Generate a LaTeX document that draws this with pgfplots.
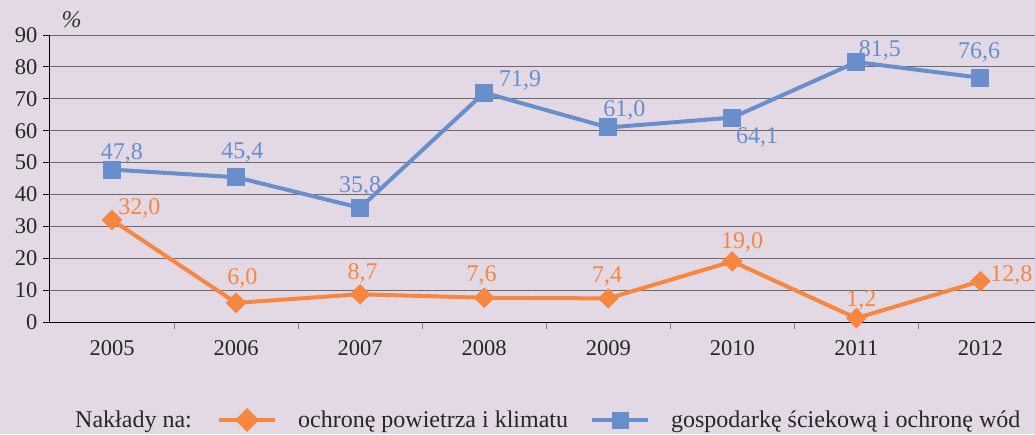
\documentclass[border=0pt]{standalone}
\usepackage{pgfplots}
\pgfplotsset{compat=1.18}
\usepackage{fontspec}
\setmainfont{Liberation Serif}
\definecolor{bg}{RGB}{226,217,229}
\definecolor{cor}{RGB}{247,134,63}
\definecolor{cbl}{RGB}{104,142,204}
\definecolor{grd}{RGB}{110,105,110}
\newcommand{\fs}{\fontsize{22.5}{26}\selectfont}
\newcommand{\fl}{\fontsize{24}{28}\selectfont}
\begin{document}
\begin{tikzpicture}[x=1pt,y=1pt]
\fill[bg] (-50,-112) rectangle (985,322);
\useasboundingbox (-50,-112) rectangle (985,322);
\node[anchor=base west, font=\fl, text=black!85, inner sep=0pt] at (25,-105) {Nakłady na:};
\begin{axis}[
  at={(0,0)}, anchor=south west,
  scale only axis, width=985pt, height=287pt,
  xmin=-0.5, xmax=7.44, ymin=0, ymax=90,
  axis lines*=left,
  axis line style={black, line width=1pt},
  ytick={0,10,...,90},
  ymajorgrids, grid style={grd, line width=1pt},
  xtick={0,...,7},
  xticklabels={2005,2006,2007,2008,2009,2010,2011,2012},
  minor xtick={0.5,1.5,...,6.5},
  major x tick style={draw=none},
  minor x tick style={gray, line width=1pt},
  minor tick length=7pt,
  major tick length=7pt,
  tick align=outside,
  ytick style={black, line width=1pt},
  tick label style={font=\fs, text=black!85},
  /pgf/number format/assume math mode=true,
  yticklabel style={xshift=-2pt},
  xticklabel style={yshift=-8pt},
  clip=false,
  legend style={at={(167pt,-98pt)}, anchor=west, draw=none, fill=none,
    font=\fl, text=black!85, legend columns=2, column sep=21pt, inner sep=0pt,
    nodes={inner sep=0pt},
    /tikz/every even column/.append style={column sep=22pt}},
  legend image code/.code={\draw[#1, line width=4pt] (0pt,0pt) -- (56pt,0pt);
    \draw[#1, only marks, mark size=6.5pt] plot coordinates {(28pt,0pt)};},
]
\addplot[cor, line width=4pt, mark=square*, mark size=5.3pt, mark options={solid, rotate=45}]
  coordinates {(0,32.0)(1,6.0)(2,8.7)(3,7.6)(4,7.4)(5,19.0)(6,1.2)(7,12.8)};
\addlegendentry{ochronę powietrza i klimatu}
\addplot[cbl, line width=4pt, mark=square*, mark size=7pt, mark options={solid}]
  coordinates {(0,47.8)(1,45.4)(2,35.8)(3,71.9)(4,61.0)(5,64.1)(6,81.5)(7,76.6)};
\addlegendentry{gospodarkę ściekową i ochronę wód}
\begin{scope}[every node/.style={font=\fl, text=cbl}]
\node at (axis cs:0.08,53.0) {47,8};
\node at (axis cs:1.05,53.3) {45,4};
\node at (axis cs:2.0,42.6) {35,8};
\node at (axis cs:3.29,75.9) {71,9};
\node at (axis cs:4.13,66.5) {61,0};
\node at (axis cs:5.2,58.0) {64,1};
\node at (axis cs:6.19,85.3) {81,5};
\node at (axis cs:6.99,84.6) {76,6};
\end{scope}
\begin{scope}[every node/.style={font=\fl, text=cor}]
\node at (axis cs:0.22,35.7) {32,0};
\node at (axis cs:1.05,13.8) {6,0};
\node at (axis cs:2.02,15.4) {8,7};
\node at (axis cs:2.98,14.7) {7,6};
\node at (axis cs:3.99,14.4) {7,4};
\node at (axis cs:5.08,25.1) {19,0};
\node at (axis cs:6.04,6.9) {1,2};
\node at (axis cs:7.25,14.7) {12,8};
\end{scope}
\node[font=\fl\itshape, text=black!80] at (rel axis cs:0.022,1.052) {\%};
\end{axis}
\end{tikzpicture}
\end{document}
